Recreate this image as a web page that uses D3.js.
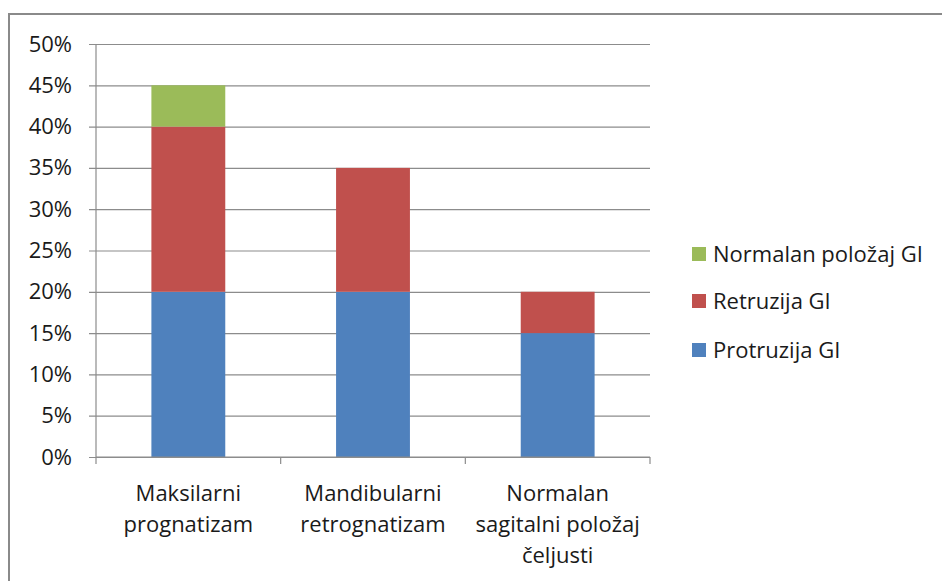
<!DOCTYPE html>
<html>
<head>
<meta charset="utf-8">
<script src="https://cdn.jsdelivr.net/npm/d3@7"></script>
<style>
body { margin: 0; background: #fff; }
text { font-family: "Open Sans", Lato, sans-serif; fill: #1a1a1a; }
</style>
</head>
<body>
<div id="chart-area"></div>
<script>
// data
var categories = [["Maksilarni", "prognatizam"], ["Mandibularni", "retrognatizam"], ["Normalan", "sagitalni položaj", "čeljusti"]];
var seriesNames = ["Protruzija GI", "Retruzija GI", "Normalan položaj GI"];
var protruzija = [20, 20, 15];
var retruzija = [20, 15, 5];
var normalan = [5, 0, 0];
var yTicks = [0, 5, 10, 15, 20, 25, 30, 35, 40, 45, 50];
var colors = ["#4F81BD", "#C0504D", "#9BBB59"];

var width = 942, height = 581;
var plot = {left: 96, right: 650, top: 44, bottom: 457};
var fontSize = "22px";

var svg = d3.select("#chart-area")
    .append("svg")
    .attr("width", width)
    .attr("height", height);

// frame
svg.append("rect")
    .attr("x", 9).attr("y", 14)
    .attr("width", 940).attr("height", 580)
    .attr("fill", "none")
    .attr("stroke", "#8a8a8a")
    .attr("stroke-width", 2);

var keys = categories.map(function (c) { return c.join(" "); });
var table = keys.map(function (k, i) {
    return {cat: k, p: protruzija[i], r: retruzija[i], n: normalan[i]};
});

var x = d3.scaleBand().domain(keys).range([plot.left, plot.right])
    .paddingInner(0.6).paddingOuter(0.3);
var y = d3.scaleLinear().domain([0, 50]).range([plot.bottom, plot.top]);

// gridlines + y axis
var yAxis = d3.axisLeft(y).tickValues(yTicks)
    .tickSize(-(plot.right - plot.left) - 7)
    .tickFormat(function (d) { return d + "%"; });
var yg = svg.append("g")
    .attr("transform", "translate(" + (plot.left - 7) + ",0)")
    .call(yAxis);
yg.select(".domain").remove();
yg.selectAll("line").attr("stroke", "#8c8c8c").attr("stroke-width", 1.2);
yg.selectAll("text").attr("font-size", fontSize).style("fill", "#1a1a1a")
    .attr("x", -17);

svg.append("line")
    .attr("x1", plot.left).attr("x2", plot.left)
    .attr("y1", plot.top).attr("y2", plot.bottom)
    .attr("stroke", "#8c8c8c").attr("stroke-width", 1.2);

// stacked bars
var stack = d3.stack().keys(["p", "r", "n"]);
var layers = stack(table);
svg.selectAll("g.layer").data(layers).enter().append("g")
    .attr("class", "layer")
    .attr("fill", function (d, i) { return colors[i]; })
    .selectAll("rect").data(function (d) { return d; }).enter().append("rect")
    .attr("x", function (d) { return x(d.data.cat); })
    .attr("y", function (d) { return y(d[1]); })
    .attr("height", function (d) { return y(d[0]) - y(d[1]); })
    .attr("width", x.bandwidth());

// x axis
svg.append("line")
    .attr("x1", plot.left).attr("x2", plot.right)
    .attr("y1", plot.bottom).attr("y2", plot.bottom)
    .attr("stroke", "#8c8c8c").attr("stroke-width", 1.2);
var step = x.step();
var bounds = d3.range(categories.length + 1).map(function (i) { return plot.left + i * step; });
svg.selectAll("line.xtick").data(bounds).enter().append("line")
    .attr("class", "xtick")
    .attr("x1", function (d) { return d; }).attr("x2", function (d) { return d; })
    .attr("y1", plot.bottom).attr("y2", plot.bottom + 7)
    .attr("stroke", "#8c8c8c").attr("stroke-width", 1.2);

var xl = svg.selectAll("text.xlab").data(categories).enter().append("text")
    .attr("class", "xlab")
    .attr("text-anchor", "middle")
    .attr("font-size", fontSize)
    .attr("x", function (d, i) { return x(keys[i]) + x.bandwidth() / 2; })
    .attr("y", 501);
xl.selectAll("tspan").data(function (d, i) { return d.map(function (t) { return {t: t, cx: x(keys[i]) + x.bandwidth() / 2}; }); })
    .enter().append("tspan")
    .attr("x", function (d) { return d.cx; })
    .attr("dy", function (d, j) { return j === 0 ? 0 : 31; })
    .text(function (d) { return d.t; });

// legend
var legendY = [254, 301, 350];
var lg = svg.selectAll("g.legend").data([2, 1, 0]).enter().append("g")
    .attr("class", "legend")
    .attr("transform", function (d, i) { return "translate(692," + legendY[i] + ")"; });
lg.append("rect")
    .attr("x", 0).attr("y", -7)
    .attr("width", 14).attr("height", 14)
    .attr("fill", function (d) { return colors[d]; });
lg.append("text")
    .attr("x", 21).attr("y", 8)
    .attr("font-size", fontSize)
    .text(function (d) { return seriesNames[d]; });
</script>
</body>
</html>
